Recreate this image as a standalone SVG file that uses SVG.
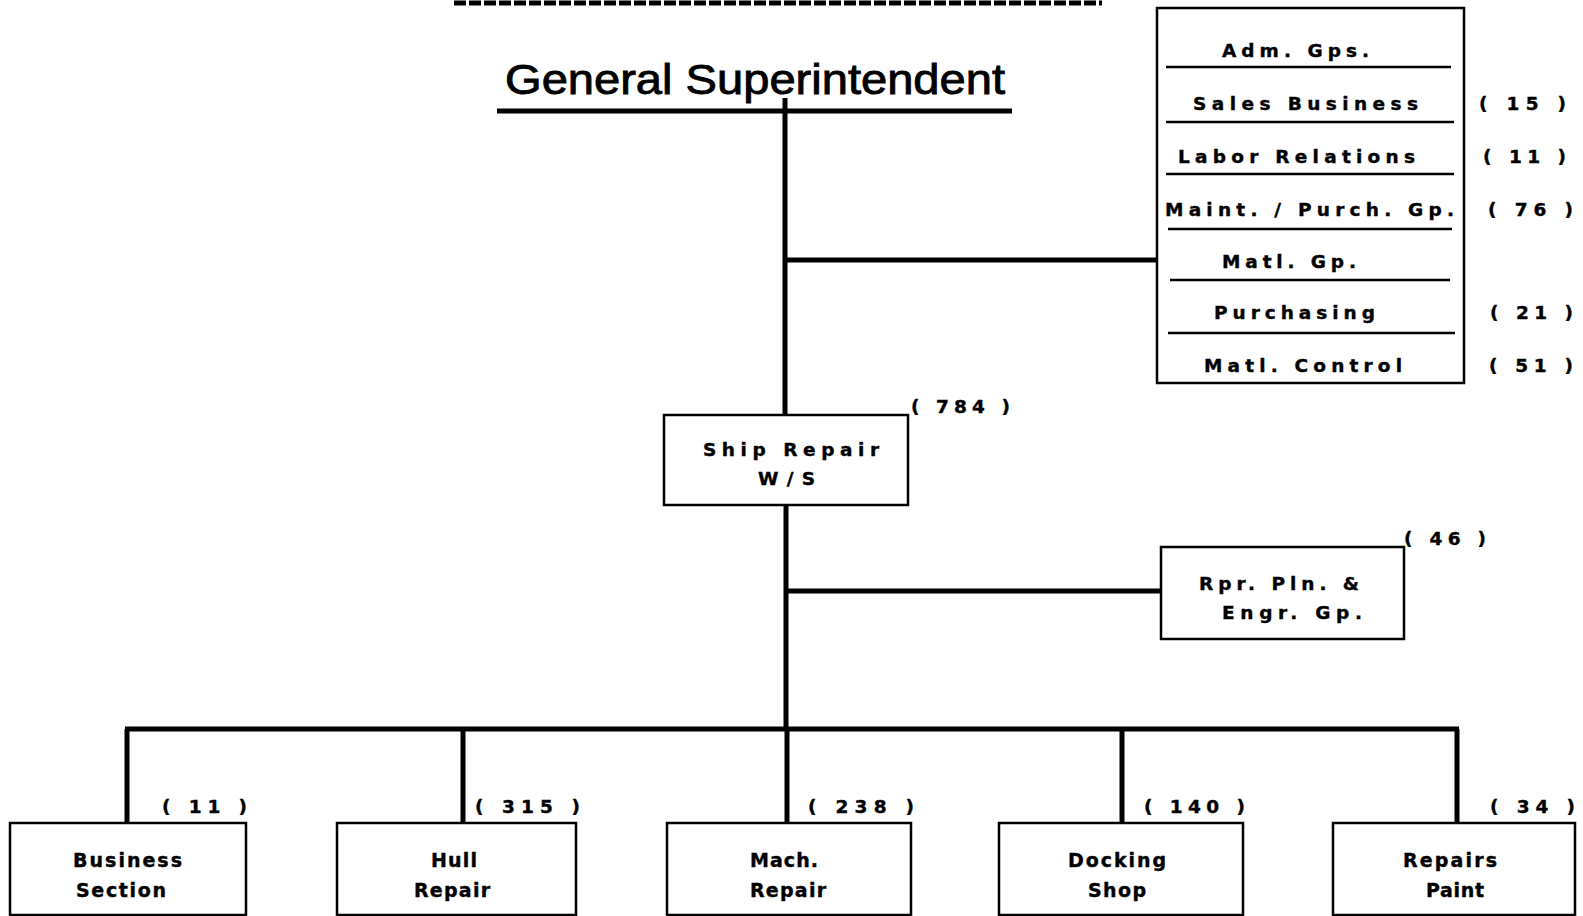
<svg xmlns="http://www.w3.org/2000/svg" width="1583" height="916" viewBox="0 0 1583 916">
<style>
.ln{stroke:#000;stroke-width:5;fill:none}
.dv{stroke:#000;stroke-width:2.5;fill:none}
.box{fill:#fff;stroke:#000;stroke-width:2.5}
.t{font-family:"DejaVu Sans","Liberation Sans",sans-serif;font-weight:bold;font-size:18.5px;fill:#000;stroke:#000;stroke-width:0.4}
.b{font-family:"DejaVu Sans","Liberation Sans",sans-serif;font-weight:bold;font-size:19px;fill:#000;stroke:#000;stroke-width:0.4}
.title{font-family:"Liberation Sans",Arial,sans-serif;font-size:43px;fill:#000;stroke:#000;stroke-width:0.9}
</style>
<rect width="1583" height="916" fill="#fff"/>
<line x1="454" y1="3" x2="1102" y2="3" stroke="#000" stroke-width="5" stroke-dasharray="12 3"/>

<g id="connectors">
<line class="ln" x1="497" y1="111" x2="1012" y2="111"/>
<line class="ln" x1="785" y1="98" x2="785" y2="415"/>
<line class="ln" x1="785" y1="260" x2="1158" y2="260"/>
<line class="ln" x1="786" y1="505" x2="786" y2="731"/>
<line class="ln" x1="786" y1="591" x2="1162" y2="591"/>
<line class="ln" x1="125" y1="729" x2="1459" y2="729"/>
<line class="ln" x1="127" y1="729" x2="127" y2="823"/>
<line class="ln" x1="463" y1="729" x2="463" y2="823"/>
<line class="ln" x1="787" y1="729" x2="787" y2="823"/>
<line class="ln" x1="1122" y1="729" x2="1122" y2="823"/>
<line class="ln" x1="1457" y1="729" x2="1457" y2="823"/>
</g>

<g id="general-superintendent">
<text class="title" x="505" y="94" textLength="500" lengthAdjust="spacingAndGlyphs">General Superintendent</text>
</g>

<g id="admin-groups">
<rect class="box" x="1157" y="8" width="307" height="375"/>
<line class="dv" x1="1166" y1="67" x2="1451" y2="67"/>
<line class="dv" x1="1166" y1="122" x2="1454" y2="122"/>
<line class="dv" x1="1166" y1="174" x2="1454" y2="174"/>
<line class="dv" x1="1168" y1="229" x2="1452" y2="229"/>
<line class="dv" x1="1170" y1="280" x2="1450" y2="280"/>
<line class="dv" x1="1168" y1="333" x2="1455" y2="333"/>
<text class="t" x="1222" y="57" textLength="147" lengthAdjust="spacing">Adm. Gps.</text>
<text class="t" x="1193" y="110" textLength="225" lengthAdjust="spacing">Sales Business</text>
<text class="t" x="1178" y="163" textLength="237" lengthAdjust="spacing">Labor Relations</text>
<text class="t" x="1165" y="216" textLength="289" lengthAdjust="spacing">Maint. / Purch. Gp.</text>
<text class="t" x="1222" y="268" textLength="134" lengthAdjust="spacing">Matl. Gp.</text>
<text class="t" x="1214" y="319" textLength="161" lengthAdjust="spacing">Purchasing</text>
<text class="t" x="1204" y="372" textLength="198" lengthAdjust="spacing">Matl. Control</text>
<text class="t" x="1479" y="110" textLength="87" lengthAdjust="spacing">( 15 )</text>
<text class="t" x="1483" y="163" textLength="83" lengthAdjust="spacing">( 11 )</text>
<text class="t" x="1488" y="216" textLength="85" lengthAdjust="spacing">( 76 )</text>
<text class="t" x="1490" y="319" textLength="83" lengthAdjust="spacing">( 21 )</text>
<text class="t" x="1489" y="372" textLength="84" lengthAdjust="spacing">( 51 )</text>
</g>

<g id="ship-repair">
<rect class="box" x="664" y="415" width="244" height="90"/>
<text class="t" x="703" y="456" textLength="176" lengthAdjust="spacing">Ship Repair</text>
<text class="t" x="758" y="485" textLength="57" lengthAdjust="spacing">W/S</text>
<text class="t" x="911" y="413" textLength="99" lengthAdjust="spacing">( 784 )</text>
</g>

<g id="repair-planning">
<rect class="box" x="1161" y="547" width="243" height="92"/>
<text class="t" x="1199" y="590" textLength="160" lengthAdjust="spacing">Rpr. Pln. &amp;</text>
<text class="t" x="1222" y="619" textLength="140" lengthAdjust="spacing">Engr. Gp.</text>
<text class="t" x="1404" y="545" textLength="82" lengthAdjust="spacing">( 46 )</text>
</g>

<g id="business-section">
<rect class="box" x="10" y="823" width="236" height="92"/>
<text class="b" x="73" y="867" textLength="109" lengthAdjust="spacing">Business</text>
<text class="b" x="76" y="897" textLength="90" lengthAdjust="spacing">Section</text>
<text class="t" x="162" y="813" textLength="85" lengthAdjust="spacing">( 11 )</text>
</g>

<g id="hull-repair">
<rect class="box" x="337" y="823" width="239" height="92"/>
<text class="b" x="431" y="867" textLength="46" lengthAdjust="spacing">Hull</text>
<text class="b" x="414" y="897" textLength="76" lengthAdjust="spacing">Repair</text>
<text class="t" x="475" y="813" textLength="105" lengthAdjust="spacing">( 315 )</text>
</g>

<g id="mach-repair">
<rect class="box" x="667" y="823" width="244" height="92"/>
<text class="b" x="750" y="867" textLength="68" lengthAdjust="spacing">Mach.</text>
<text class="b" x="750" y="897" textLength="76" lengthAdjust="spacing">Repair</text>
<text class="t" x="808" y="813" textLength="106" lengthAdjust="spacing">( 238 )</text>
</g>

<g id="docking-shop">
<rect class="box" x="999" y="823" width="244" height="92"/>
<text class="b" x="1068" y="867" textLength="98" lengthAdjust="spacing">Docking</text>
<text class="b" x="1088" y="897" textLength="58" lengthAdjust="spacing">Shop</text>
<text class="t" x="1144" y="813" textLength="101" lengthAdjust="spacing">( 140 )</text>
</g>

<g id="repairs-paint">
<rect class="box" x="1333" y="823" width="242" height="92"/>
<text class="b" x="1403" y="867" textLength="94" lengthAdjust="spacing">Repairs</text>
<text class="b" x="1426" y="897" textLength="58" lengthAdjust="spacing">Paint</text>
<text class="t" x="1490" y="813" textLength="85" lengthAdjust="spacing">( 34 )</text>
</g>
</svg>
